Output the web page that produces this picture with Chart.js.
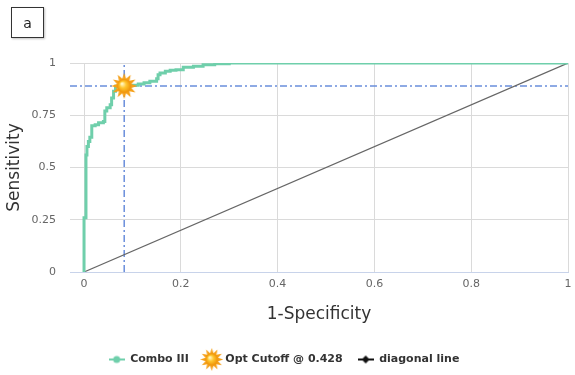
<!DOCTYPE html>
<html>
<head>
<meta charset="utf-8">
<script src="https://cdn.jsdelivr.net/npm/chart.js@4"></script>
<style>
  html, body { margin: 0; padding: 0; background: #fff; }
  #wrap { position: relative; width: 575px; height: 375px; }
  #panel-tag {
    position: absolute; left: 11px; top: 7px; width: 31px; height: 29px;
    border: 1.5px solid #333; box-shadow: 1px 1px 2px rgba(0,0,0,0.25);
    font: 14px "DejaVu Sans", sans-serif; color: #222;
    display: flex; align-items: center; justify-content: center;
  }
</style>
</head>
<body>
<div id="wrap">
  <canvas id="roc" width="575" height="375"></canvas>
  <div id="panel-tag">a</div>
</div>
<script>
// ROC curve (1-specificity vs sensitivity)
var fpr = [0, 0, 0.004, 0.006, 0.009, 0.012, 0.016, 0.023, 0.03, 0.04, 0.043, 0.047, 0.054, 0.057, 0.061, 0.065, 0.071, 0.083, 0.095, 0.112, 0.124, 0.136, 0.15, 0.153, 0.157, 0.168, 0.178, 0.19, 0.205, 0.226, 0.246, 0.27, 0.3, 0.35, 1];
var tpr = [0, 0.25, 0.26, 0.56, 0.6, 0.625, 0.645, 0.7, 0.705, 0.714, 0.72, 0.77, 0.786, 0.8, 0.833, 0.865, 0.889, 0.889, 0.891, 0.894, 0.899, 0.905, 0.913, 0.925, 0.944, 0.952, 0.96, 0.965, 0.968, 0.98, 0.985, 0.992, 0.997, 1, 1];

var cutoffX = [0.083];
var cutoffY = [0.89];

var diagX = [0, 1];
var diagY = [0, 1];

var xTicks = [0, 0.2, 0.4, 0.6, 0.8, 1];
var yTicks = [0, 0.25, 0.5, 0.75, 1];

var xMin = -0.029;

var TEAL = "#6fcfab";
var BLUE = "#6a8edb";
var DIAG = "#666";
var FONT = "'DejaVu Sans', sans-serif";

function pairs(xs, ys) {
  return xs.map(function (x, i) { return { x: x, y: ys[i] }; });
}

function makeSun(size) {
  var c = document.createElement("canvas");
  c.width = size; c.height = size;
  var ctx = c.getContext("2d");
  var cx = size / 2, cy = size / 2;
  var rOut = size / 2, rIn = size * 0.26;
  var n = 12;
  ctx.fillStyle = "#f5a019";
  ctx.beginPath();
  for (var i = 0; i < n * 2; i++) {
    var a = i * Math.PI / n - Math.PI / 2;
    var r = i % 2 === 0 ? rOut : rIn * 1.1;
    ctx.lineTo(cx + r * Math.cos(a), cy + r * Math.sin(a));
  }
  ctx.closePath();
  ctx.fill();
  var g = ctx.createRadialGradient(cx - rIn * 0.35, cy - rIn * 0.35, 0.5, cx, cy, rIn);
  g.addColorStop(0, "#fff8c8");
  g.addColorStop(0.45, "#ffc62e");
  g.addColorStop(1, "#ee9208");
  ctx.fillStyle = g;
  ctx.beginPath();
  ctx.arc(cx, cy, rIn, 0, Math.PI * 2);
  ctx.fill();
  return c;
}

function makeLineMarker(color, diamond) {
  var c = document.createElement("canvas");
  c.width = 16; c.height = 10;
  var ctx = c.getContext("2d");
  ctx.strokeStyle = color;
  ctx.lineWidth = 2;
  ctx.beginPath();
  ctx.moveTo(0, 5); ctx.lineTo(16, 5);
  ctx.stroke();
  ctx.fillStyle = color;
  ctx.beginPath();
  if (diamond) {
    ctx.moveTo(8, 1); ctx.lineTo(12, 5); ctx.lineTo(8, 9); ctx.lineTo(4, 5);
  } else {
    ctx.arc(8, 5, 3.5, 0, Math.PI * 2);
  }
  ctx.closePath();
  ctx.fill();
  return c;
}

var sunBig = makeSun(26);
var sunLegend = makeSun(23);
var comboIcon = makeLineMarker(TEAL, false);
var diagIcon = makeLineMarker("#111", true);

function noSidePadding(s) {
  s.paddingLeft = 0;
  s.paddingRight = 0;
}

new Chart(document.getElementById("roc"), {
  type: "scatter",
  data: {
    datasets: [
      {
        label: "Combo III",
        data: pairs(fpr, tpr),
        showLine: true,
        stepped: "after",
        borderColor: TEAL,
        backgroundColor: TEAL,
        borderWidth: 3,
        pointRadius: 0,
        order: 2
      },
      {
        label: "Opt Cutoff @ 0.428",
        data: pairs(cutoffX, cutoffY),
        pointStyle: sunBig,
        pointRadius: 13,
        order: 0
      },
      {
        label: "diagonal line",
        data: pairs(diagX, diagY),
        showLine: true,
        borderColor: DIAG,
        borderWidth: 1.2,
        pointRadius: 0,
        order: 3
      },
      {
        label: "cutoff-h",
        data: [{ x: xMin, y: cutoffY[0] }, { x: 1, y: cutoffY[0] }],
        showLine: true,
        borderColor: BLUE,
        borderWidth: 1.5,
        borderDash: [7, 3, 2, 3],
        pointRadius: 0,
        order: 4
      },
      {
        label: "cutoff-v",
        data: [{ x: cutoffX[0], y: 0 }, { x: cutoffX[0], y: 1 }],
        showLine: true,
        borderColor: BLUE,
        borderWidth: 1.5,
        borderDash: [7, 3, 2, 3],
        pointRadius: 0,
        order: 4
      }
    ]
  },
  options: {
    responsive: false,
    animation: false,
    layout: { autoPadding: false, padding: { top: 63, right: 7, bottom: 0, left: 0 } },
    scales: {
      x: {
        type: "linear",
        min: xMin,
        max: 1,
        afterBuildTicks: function (s) { s.ticks = xTicks.map(function (v) { return { value: v }; }); },
        afterFit: function (s) { s.height = 67; noSidePadding(s); },
        grid: { color: "#dadada", drawTicks: false },
        border: { color: "#c8d3ea", width: 1 },
        ticks: {
          padding: 6,
          color: "#666",
          font: { family: FONT, size: 11 },
          callback: function (v) { return String(v); }
        },
        title: {
          display: true,
          text: "1-Specificity",
          color: "#333",
          font: { family: FONT, size: 17 },
          padding: { top: 0, bottom: 14 }
        }
      },
      y: {
        type: "linear",
        min: 0,
        max: 1,
        afterBuildTicks: function (s) { s.ticks = yTicks.map(function (v) { return { value: v }; }); },
        afterFit: function (s) { s.width = 70; },
        grid: {
          drawTicks: false,
          color: function (c) { return c.tick && c.tick.value === 0 ? "#c8d3ea" : "#dadada"; }
        },
        border: { display: false },
        ticks: {
          padding: 14,
          color: "#666",
          font: { family: FONT, size: 11 },
          callback: function (v) { return String(v); }
        },
        title: {
          display: true,
          text: "Sensitivity",
          color: "#333",
          font: { family: FONT, size: 17 },
          padding: { top: 4, bottom: 0 }
        }
      }
    },
    plugins: {
      tooltip: { enabled: false },
      legend: {
        position: "bottom",
        labels: {
          usePointStyle: true,
          pointStyleWidth: 16,
          padding: 15,
          color: "#333",
          font: { family: FONT, size: 11, weight: "bold" },
          generateLabels: function () {
            var icons = [comboIcon, sunLegend, diagIcon];
            var names = ["Combo III", "Opt Cutoff @ 0.428", "diagonal line"];
            return names.map(function (n, i) {
              return { text: n, pointStyle: icons[i], fontColor: "#333", lineWidth: 0, hidden: false, datasetIndex: i };
            });
          }
        }
      }
    }
  }
});
</script>
</body>
</html>
